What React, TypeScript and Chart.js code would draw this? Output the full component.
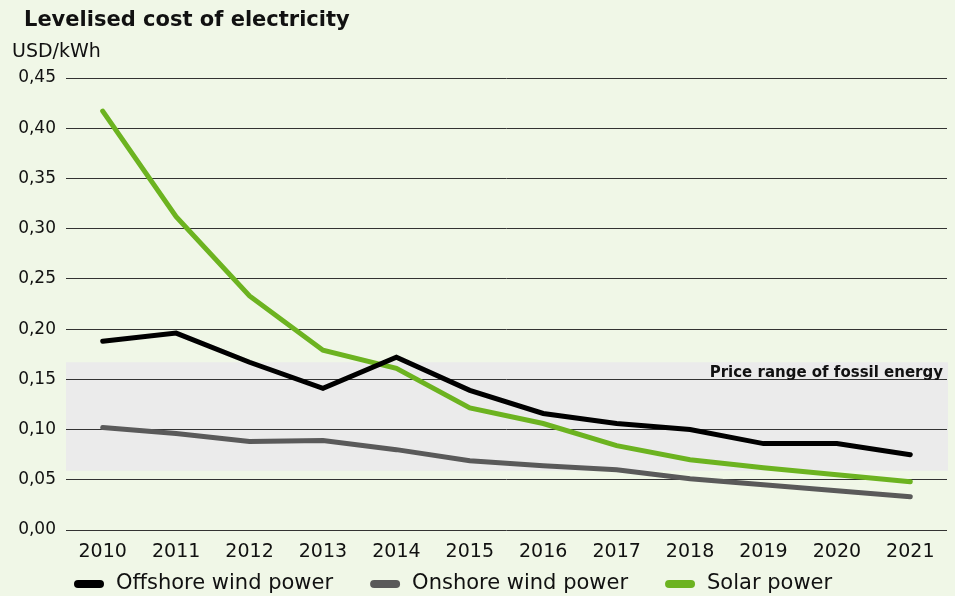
import React, { useEffect, useRef } from "react";
import { Chart, registerables } from "chart.js";
Chart.register(...registerables);

const years = ["2010", "2011", "2012", "2013", "2014", "2015", "2016", "2017", "2018", "2019", "2020", "2021"];
const offshore = [0.188, 0.196, 0.167, 0.141, 0.172, 0.139, 0.116, 0.106, 0.1, 0.086, 0.086, 0.075];
const onshore = [0.102, 0.096, 0.088, 0.089, 0.08, 0.069, 0.064, 0.06, 0.051, 0.045, 0.039, 0.033];
const solar = [0.417, 0.312, 0.233, 0.179, 0.161, 0.1215, 0.106, 0.084, 0.07, 0.062, 0.055, 0.048];
const seriesNames = ["Offshore wind power", "Onshore wind power", "Solar power"];
const seriesColors = ["#000000", "#5a5a5a", "#6cb320"];
const fossilRange = [0.059, 0.167];
const fossilLabel = "Price range of fossil energy";
const titleText = "Levelised cost of electricity";
const unitText = "USD/kWh";

const FONT = "'DejaVu Sans', sans-serif";
const BG = "#f0f7e7";

const decorPlugin = {
  id: "decor",
  beforeDraw(chart: any) {
    const { ctx, chartArea, scales } = chart;
    ctx.save();
    ctx.fillStyle = BG;
    ctx.fillRect(0, 0, chart.width, chart.height);
    const y1 = scales.y.getPixelForValue(fossilRange[1]);
    const y0 = scales.y.getPixelForValue(fossilRange[0]);
    ctx.fillStyle = "#ebebeb";
    ctx.fillRect(chartArea.left, y1, chartArea.right - chartArea.left + 1, y0 - y1);
    ctx.restore();
  },
  afterDraw(chart: any) {
    const { ctx, chartArea, scales } = chart;
    ctx.save();
    ctx.fillStyle = "#111";
    ctx.textBaseline = "alphabetic";
    ctx.textAlign = "left";
    ctx.font = `bold 21px ${FONT}`;
    ctx.fillText(titleText, 24, 26);
    ctx.font = `19px ${FONT}`;
    ctx.fillText(unitText, 12, 57);
    ctx.font = `bold 15px ${FONT}`;
    ctx.textAlign = "right";
    const y1 = scales.y.getPixelForValue(fossilRange[1]);
    ctx.fillText(fossilLabel, chartArea.right - 4, y1 + 15);
    ctx.textAlign = "left";
    ctx.textBaseline = "middle";
    ctx.font = `21px ${FONT}`;
    let x = 74;
    const cy = 584;
    chart.data.datasets.forEach((ds: any) => {
      ctx.fillStyle = ds.borderColor;
      ctx.beginPath();
      (ctx as any).roundRect(x, cy - 4, 30, 8, 4);
      ctx.fill();
      x += 30 + 12;
      ctx.fillStyle = "#111";
      ctx.fillText(ds.label, x, cy);
      x += ctx.measureText(ds.label).width + 37;
    });
    ctx.restore();
  },
};

export default function App() {
  const ref = useRef<HTMLCanvasElement>(null);
  useEffect(() => {
    const data = [offshore, onshore, solar];
    const chart = new Chart(ref.current!, {
      type: "line",
      data: {
        labels: years,
        datasets: data.map((d, i) => ({
          label: seriesNames[i],
          data: d,
          borderColor: seriesColors[i],
          backgroundColor: seriesColors[i],
          borderWidth: 5,
          pointRadius: 0,
          borderCapStyle: "round" as const,
          borderJoinStyle: "miter" as const,
          tension: 0,
        })),
      },
      options: {
        animation: false,
        responsive: false,
        layout: { padding: { top: 78, left: 0, right: 8, bottom: 0 } },
        plugins: { legend: { display: false }, tooltip: { enabled: false }, title: { display: false } },
        scales: {
          x: {
            offset: true,
            afterFit: (s: any) => { s.height = 66; },
            grid: { display: false, drawTicks: false },
            border: { display: false },
            ticks: { color: "#111", font: { family: FONT, size: 19 }, padding: 11, maxRotation: 0 },
          },
          y: {
            min: 0,
            max: 0.45,
            afterFit: (s: any) => { s.width = 66; },
            grid: { color: "#333", lineWidth: 1, drawTicks: false },
            border: { display: false },
            ticks: {
              stepSize: 0.05,
              padding: 10,
              color: "#111",
              font: { family: FONT, size: 17 },
              callback: (v: any) => Number(v).toFixed(2).replace(".", ","),
            },
          },
        },
      },
      plugins: [decorPlugin],
    });
    return () => chart.destroy();
  }, []);
  return (
    <div style={{ position: "fixed", left: 0, top: 0, width: 955, height: 596, background: BG }}>
      <canvas ref={ref} width={955} height={596} style={{ display: "block" }} />
    </div>
  );
}
